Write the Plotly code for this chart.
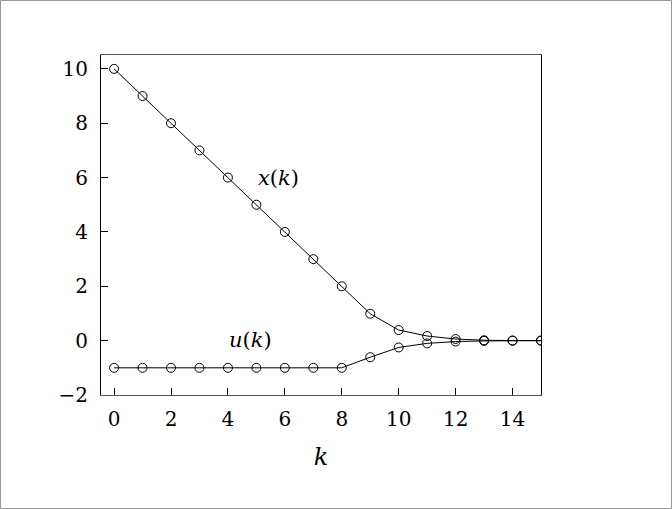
import plotly.graph_objects as go

k = list(range(16))
x_vals = [10, 9, 8, 7, 6, 5, 4, 3, 2, 0.99, 0.39, 0.17, 0.06, 0.015, 0.004, 0.0]
u_vals = [-1, -1, -1, -1, -1, -1, -1, -1, -1, -0.61, -0.25, -0.1, -0.035, -0.01, -0.003, 0.0]
xticks = [0, 2, 4, 6, 8, 10, 12, 14]
yticks = [-2, 0, 2, 4, 6, 8, 10]

FONT = "DejaVu Serif, Liberation Serif, serif"

fig = go.Figure()
for vals in (x_vals, u_vals):
    fig.add_trace(go.Scatter(
        x=k, y=vals, mode="lines+markers",
        line=dict(color="black", width=1),
        marker=dict(symbol="circle-open", size=9, color="black", line=dict(width=1)),
        showlegend=False, hoverinfo="skip"))

fig.add_annotation(x=5.79, y=6.0, text="<i>x</i>(<i>k</i>)", showarrow=False,
                   font=dict(family=FONT, size=21, color="black"))
fig.add_annotation(x=4.8, y=0.02, text="<i>u</i>(<i>k</i>)", showarrow=False,
                   font=dict(family=FONT, size=21, color="black"))

W, H = 672, 509
L, R, T, B = 101, 541, 55, 395
pw, ph = R - L, B - T
fig.add_shape(type="rect", xref="paper", yref="paper",
              x0=(0.5 - L) / pw, x1=(W - 0.5 - L) / pw,
              y0=(B - (H - 0.5)) / ph, y1=(B - 0.5) / ph,
              line=dict(color="#9a9a9a", width=1), fillcolor="rgba(0,0,0,0)")

fig.update_layout(
    width=W, height=H,
    margin=dict(l=L, r=W - R, t=T, b=H - B),
    paper_bgcolor="white", plot_bgcolor="white",
    font=dict(family=FONT, size=20, color="black"),
    xaxis=dict(range=[-0.46, 15], tickvals=xticks, ticks="inside", ticklen=7,
               tickcolor="black", showline=True, linecolor="#555", linewidth=1,
               mirror=True, showgrid=False, zeroline=False,
               title=dict(text="<i>k</i>", standoff=18), ticklabelstandoff=6),
    yaxis=dict(range=[-2, 10.51], tickvals=yticks, ticks="inside", ticklen=7,
               tickcolor="black", showline=True, linecolor="black", linewidth=1,
               mirror=True, showgrid=False, zeroline=False, ticklabelstandoff=8),
)

fig.write_html("out.html", config={"displayModeBar": False},
               post_script="document.body.style.margin='0px';document.body.style.overflow='hidden';")
